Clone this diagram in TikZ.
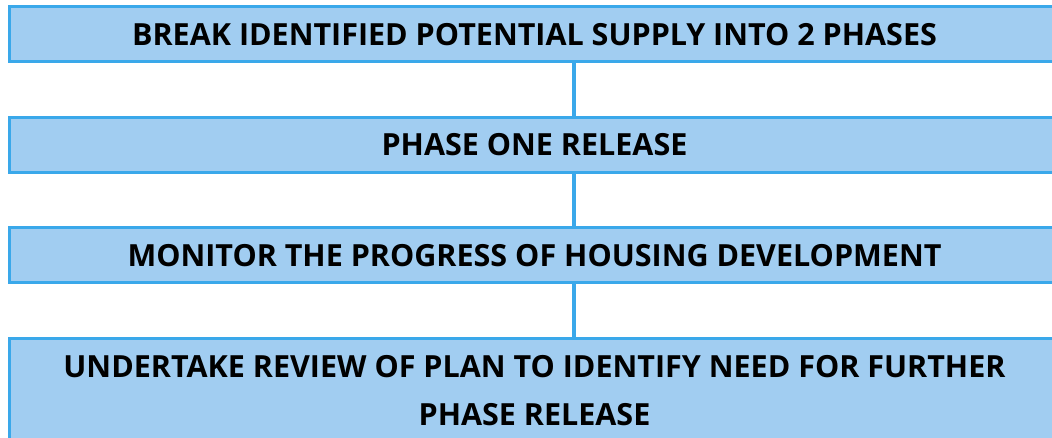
\documentclass[tikz,border=0pt]{standalone}
\usepackage{fontspec}
\setmainfont{Open Sans}
\usetikzlibrary{positioning}
\definecolor{boxfill}{RGB}{161,205,241}
\definecolor{boxline}{RGB}{58,168,234}
\tikzstyle{stage} = [draw=boxline, fill=boxfill, line width=3pt, outer sep=0pt, minimum width=1051pt, minimum height=55pt, align=center, font=\fontsize{30.5}{48}\selectfont\bfseries, text=black]
\tikzstyle{link} = [draw=boxline, line width=3.5pt]

\begin{document}
\begin{tikzpicture}[x=1pt, y=1pt, node distance=55.5pt]
	\clip (0,0) rectangle (1052,-438);
	\node[stage] (split) at (534.5,-34.25) {BREAK IDENTIFIED POTENTIAL SUPPLY INTO 2 PHASES};
	\node[stage, below=of split] (first) {PHASE ONE RELEASE};
	\node[stage, below=of first] (monitor) {MONITOR THE PROGRESS OF HOUSING DEVELOPMENT};
	\node[stage, below=of monitor, minimum height=104pt] (review) {UNDERTAKE REVIEW OF PLAN TO IDENTIFY NEED FOR FURTHER\\PHASE RELEASE};
	\draw[link] ([xshift=39.5pt]split.south) -- ([xshift=39.5pt]first.north);
	\draw[link] ([xshift=39.5pt]first.south) -- ([xshift=39.5pt]monitor.north);
	\draw[link] ([xshift=39.5pt]monitor.south) -- ([xshift=39.5pt]review.north);
\end{tikzpicture}
\end{document}
